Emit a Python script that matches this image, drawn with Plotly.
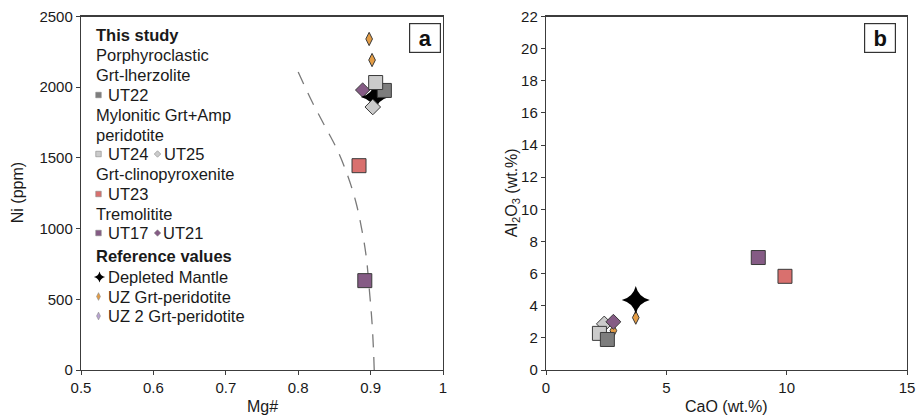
import plotly.graph_objects as go

OFF = 0
W, H = 919, 417

# ---------------- Panel a : Mg# vs Ni (ppm) ----------------
mg_ut22 = [0.919]; ni_ut22 = [1977]
mg_ut24 = [0.907]; ni_ut24 = [2033]
mg_ut25 = [0.903]; ni_ut25 = [1860]
mg_ut23 = [0.884]; ni_ut23 = [1445]
mg_ut17 = [0.892]; ni_ut17 = [632]
mg_ut21 = [0.889]; ni_ut21 = [1980]
mg_dm = [0.906]; ni_dm = [1931]
mg_uz = [0.898, 0.902]; ni_uz = [2341, 2192]
mg_uz2 = [0.917]; ni_uz2 = [1975]
curve_mg = [0.800, 0.818, 0.836, 0.854, 0.869, 0.880, 0.888, 0.894, 0.899, 0.902, 0.904, 0.905]
curve_ni = [2107, 1909, 1733, 1556, 1365, 1181, 990, 799, 523, 332, 141, 0]

# ---------------- Panel b : CaO vs Al2O3 (wt.%) ----------------
cao_ut22 = [2.55]; al_ut22 = [1.90]
cao_ut24 = [2.22]; al_ut24 = [2.28]
cao_ut25 = [2.42]; al_ut25 = [2.87]
cao_ut23 = [9.93]; al_ut23 = [5.83]
cao_ut17 = [8.82]; al_ut17 = [7.00]
cao_ut21 = [2.80]; al_ut21 = [3.00]
cao_dm = [3.73]; al_dm = [4.36]
cao_uz = [3.73, 2.80]; al_uz = [3.26, 2.45]
cao_uz2 = [2.55]; al_uz2 = [1.90]

mg_ticks = [0.5, 0.6, 0.7, 0.8, 0.9, 1.0]
mg_ticktext = ["0.5", "0.6", "0.7", "0.8", "0.9", "1"]

# ---------------- styles ----------------
C_UT22 = "#7d7d7d"
C_UT24 = "#cbcbcb"
C_UT23 = "#d9706e"
C_UT17 = "#855b85"
C_UZ = "#e39c45"
C_UZ2 = "#b9a4d2"
EDGE = "#3a3a3a"
FONT = "Liberation Sans, Arial, sans-serif"
TXT = "#1a1a1a"

# pixel layout (window pixels)
AX0, AX1 = 81, 443
BX0, BX1 = 546, 907
YT, YB = 16.5, 370


def fx(px):
    return (px - OFF) / W


def fy(py):
    return 1 - (py - OFF) / H


fig = go.Figure()


def add(x, y, sym, size, color, xa, ya, lw=1.0, lc=EDGE):
    fig.add_trace(go.Scatter(
        x=x, y=y, mode="markers", xaxis=xa, yaxis=ya, showlegend=False,
        cliponaxis=False, hoverinfo="skip",
        marker=dict(symbol=sym, size=size, color=color, line=dict(width=lw, color=lc))))


# panel a
fig.add_trace(go.Scatter(x=curve_mg, y=curve_ni, mode="lines", xaxis="x", yaxis="y",
                         showlegend=False, hoverinfo="skip",
                         line=dict(color="#7a7a7a", width=1.3, dash="13px,10px", shape="spline")))
add(mg_uz2, ni_uz2, "diamond-tall", 9.5, C_UZ2, "x", "y")
add(mg_uz, ni_uz, "diamond-tall", 9.5, C_UZ, "x", "y")
add(mg_ut21, ni_ut21, "diamond", 11, C_UT17, "x", "y")
add(mg_dm, ni_dm, "star-diamond", 20, "#000000", "x", "y", lw=0)
add(mg_ut22, ni_ut22, "square", 14, C_UT22, "x", "y")
add(mg_ut24, ni_ut24, "square", 14, C_UT24, "x", "y")
add(mg_ut25, ni_ut25, "diamond", 12, C_UT24, "x", "y")
add(mg_ut23, ni_ut23, "square", 14, C_UT23, "x", "y")
add(mg_ut17, ni_ut17, "square", 14, C_UT17, "x", "y")

# panel b
add(cao_uz2, al_uz2, "diamond-tall", 9.5, C_UZ2, "x2", "y2")
add(cao_ut25, al_ut25, "diamond", 12, C_UT24, "x2", "y2")
add(cao_ut24, al_ut24, "square", 14, C_UT24, "x2", "y2")
add(cao_uz, al_uz, "diamond-tall", 9.5, C_UZ, "x2", "y2")
add(cao_ut21, al_ut21, "diamond", 11.5, C_UT17, "x2", "y2")
add(cao_ut22, al_ut22, "square", 14, C_UT22, "x2", "y2")
add(cao_ut17, al_ut17, "square", 14, C_UT17, "x2", "y2")
add(cao_ut23, al_ut23, "square", 14, C_UT23, "x2", "y2")
add(cao_dm, al_dm, "star-diamond", 20, "#000000", "x2", "y2", lw=0)

# ---------------- legend (drawn inside panel a) ----------------
XR = (0.5, 1.0)
YR = (0, 2500)


def px_a(px, py):
    x = XR[0] + (px - AX0) / (AX1 - AX0) * (XR[1] - XR[0])
    y = YR[0] + (YB - py) / (YB - YT) * (YR[1] - YR[0])
    return x, y


annotations = []


def text(px, py, s, size=16.5, bold=False, xanchor="left"):
    annotations.append(dict(
        x=fx(px), y=fy(py), xref="paper", yref="paper", xanchor=xanchor, yanchor="middle",
        text=("<b>%s</b>" % s) if bold else s, showarrow=False,
        font=dict(family=FONT, size=size, color=TXT)))


legend_lines = [
    (94, 35, "This study", True),
    (94, 55, "Porphyroclastic", False),
    (94, 74.5, "Grt-lherzolite", False),
    (106, 95, "UT22", False),
    (94, 115, "Mylonitic Grt+Amp", False),
    (94, 134.5, "peridotite", False),
    (106, 154, "UT24", False),
    (162, 154, "UT25", False),
    (94, 174, "Grt-clinopyroxenite", False),
    (106, 194, "UT23", False),
    (94, 213.5, "Tremolitite", False),
    (106, 233, "UT17", False),
    (161, 233, "UT21", False),
    (94, 256, "Reference values", True),
    (106, 277, "Depleted Mantle", False),
    (106, 296.5, "UZ Grt-peridotite", False),
    (106, 316, "UZ 2 Grt-peridotite", False),
]
for px, py, s, b in legend_lines:
    text(px, py, s, bold=b)

swatches = [
    (98.5, 95, "square", 5.5, C_UT22),
    (98.5, 154, "square", 5.5, C_UT24),
    (157.5, 154, "diamond", 5, C_UT24),
    (98.5, 194, "square", 5.5, C_UT23),
    (98.5, 233, "square", 5.5, C_UT17),
    (157.5, 233, "diamond", 5, C_UT17),
    (99.5, 277, "star-diamond", 8, "#000000"),
    (98.5, 296.5, "diamond-tall", 5.5, C_UZ),
    (98.5, 316, "diamond-tall", 5.5, C_UZ2),
]
for px, py, sym, sz, col in swatches:
    x, y = px_a(px, py)
    fig.add_trace(go.Scatter(
        x=[x], y=[y], mode="markers", xaxis="x", yaxis="y", showlegend=False, cliponaxis=False,
        hoverinfo="skip",
        marker=dict(symbol=sym, size=sz, color=col,
                    line=dict(width=0.6 if col != "#000000" else 0, color="#888888"))))

# panel letters
for cx, letter in [(425, "a"), (880, "b")]:
    annotations.append(dict(
        x=fx(cx), y=fy(38), xref="paper", yref="paper", xanchor="center", yanchor="middle",
        text="<b>%s</b>" % letter, showarrow=False, width=28, height=26,
        bordercolor="#333333", borderwidth=1.2, borderpad=1, bgcolor="white",
        font=dict(family=FONT, size=22, color="#111111")))

# axis titles
annotations.append(dict(x=fx((AX0 + AX1) / 2), y=fy(406), xref="paper", yref="paper",
                        xanchor="center", yanchor="middle",
                        text="Mg#", showarrow=False, font=dict(family=FONT, size=16, color=TXT)))
annotations.append(dict(x=fx((BX0 + BX1) / 2), y=fy(406), xref="paper", yref="paper",
                        xanchor="center", yanchor="middle",
                        text="CaO (wt.%)", showarrow=False, font=dict(family=FONT, size=16, color=TXT)))
annotations.append(dict(x=fx(17), y=fy((YT + YB) / 2), xref="paper", yref="paper",
                        xanchor="center", yanchor="middle",
                        text="Ni (ppm)", textangle=-90, showarrow=False,
                        font=dict(family=FONT, size=16, color=TXT)))
annotations.append(dict(x=fx(512), y=fy((YT + YB) / 2), xref="paper", yref="paper",
                        xanchor="center", yanchor="middle",
                        text="Al<sub>2</sub>O<sub>3</sub> (wt.%)", textangle=-90, showarrow=False,
                        font=dict(family=FONT, size=16, color=TXT)))

axis_common = dict(showline=True, mirror=True, linecolor="#3c3c3c", linewidth=1.2,
                   ticks="outside", ticklen=4, tickcolor="#3c3c3c", tickwidth=1,
                   showgrid=False, zeroline=False, automargin=False,
                   ticklabeloverflow="allow",
                   tickfont=dict(family=FONT, size=15, color=TXT))
ydom = [fy(YB), fy(YT)]

fig.update_layout(
    width=W, height=H,
    margin=dict(l=0, r=0, t=0, b=0),
    paper_bgcolor="white", plot_bgcolor="white",
    showlegend=False,
    hovermode=False,
    annotations=annotations,
    xaxis=dict(domain=[fx(AX0), fx(AX1)], range=list(XR), tickvals=mg_ticks, ticktext=mg_ticktext,
               anchor="y", **axis_common),
    yaxis=dict(domain=ydom, range=list(YR), dtick=500, anchor="x", **axis_common),
    xaxis2=dict(domain=[fx(BX0), fx(BX1)], range=[0, 15], dtick=5, anchor="y2", **axis_common),
    yaxis2=dict(domain=ydom, range=[0, 22], dtick=2, anchor="x2", **axis_common),
)

fig.write_html("out.html", config={"displayModeBar": False, "staticPlot": True},
               post_script="document.body.style.margin='0px';document.body.style.overflow='hidden';")
